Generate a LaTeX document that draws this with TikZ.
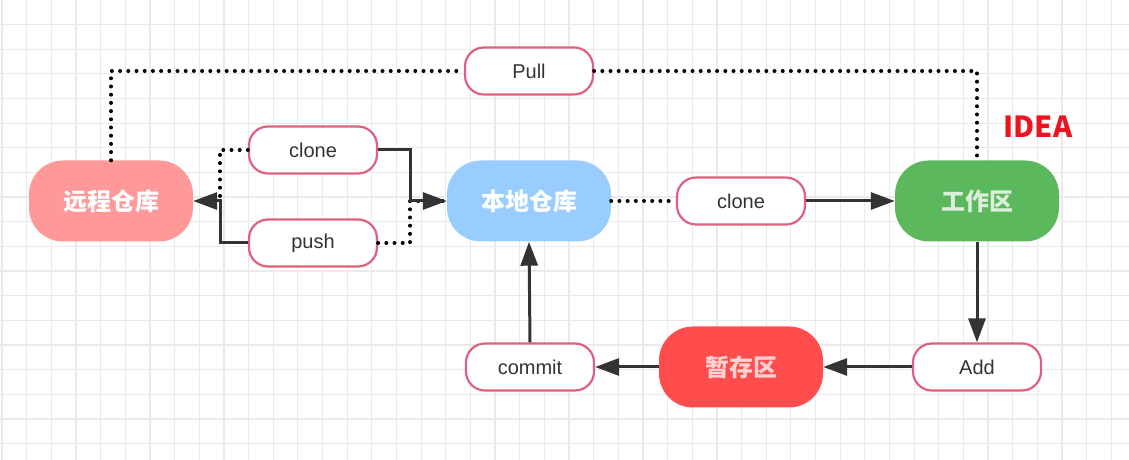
\documentclass[tikz,border=0pt]{standalone}
\usepackage{fontspec}
\setmainfont{Liberation Sans}
\newfontfamily\cjk{Noto Sans CJK SC}
\usetikzlibrary{arrows.meta}

\definecolor{remotecol}{RGB}{255,153,153}
\definecolor{localcol}{RGB}{153,204,255}
\definecolor{workcol}{RGB}{92,184,92}
\definecolor{stagecol}{RGB}{255,77,77}
\definecolor{opcol}{RGB}{222,98,128}
\definecolor{linecol}{RGB}{51,51,51}
\definecolor{gridcol}{RGB}{234,234,234}
\definecolor{ideacol}{RGB}{236,20,30}

\tikzset{
	area/.style={rounded corners=34pt, minimum width=164pt, minimum height=81pt, inner sep=0pt,
		text=white, font=\cjk\bfseries\fontsize{24}{28}\selectfont},
	opbox/.style={draw=opcol, line width=2.2pt, fill=white, rounded corners=19pt,
		minimum width=128pt, minimum height=47pt, inner sep=0pt,
		text=linecol, font=\fontsize{20}{24}\selectfont},
	dotline/.style={black, line width=4pt, line cap=round, dash pattern=on 0pt off 8.2pt},
	solidarrow/.style={linecol, line width=3pt, -{Triangle[length=24pt, width=17pt]}},
}

\begin{document}
\begin{tikzpicture}[x=1pt, y=1pt]

		\useasboundingbox (0,0) rectangle (1129,460);
		\fill[white] (0,0) rectangle (1129,460);
		% grid
		\foreach \gx in {0,...,45} {
			\draw[gridcol, line width=1.2pt] ({2.05+24.65*\gx},0) -- ({2.05+24.65*\gx},460);
		}
		\foreach \gy in {0,...,18} {
			\draw[gridcol, line width=1.2pt] (0,{460.1-24.65*\gy}) -- (1129,{460.1-24.65*\gy});
		}

		% areas
		\node[area, fill=remotecol] (remote) at (111,259) {远程仓库};
		\node[area, fill=localcol] (local) at (529,259) {本地仓库};
		\node[area, fill=workcol, text=white!78!workcol] (work) at (977,259) {工作区};
		\node[area, fill=stagecol, text=white!75!stagecol] (stage) at (741,93) {暂存区};

		% operations
		\node[opbox] (pull) at (529,389) {Pull};
		\node[opbox] (cloneR) at (313,310) {clone};
		\node[opbox] (pushR) at (313,217) {push};
		\node[opbox] (cloneW) at (741,259) {clone};
		\node[opbox] (add) at (977,93) {Add};
		\node[opbox] (commit) at (530,93) {commit};

		\node[text=ideacol, font=\cjk\bfseries\fontsize{29}{32}\selectfont] (idea) at (1038,333) {IDEA};

		\coordinate (leftJ) at (220,259);
		\coordinate (rightJ) at (410,259);

		% connectors
		\draw[dotline] (remote.north) |- (pull.west);
		\draw[dotline] (pull.east) -| (work.north);
		\draw[dotline] (cloneR.west) -| (leftJ);
		\draw[dotline] (pushR.east) -| (rightJ) -- (local.west);
		\draw[solidarrow] (cloneR.east) -| (rightJ) -- (local.west);
		\draw[solidarrow] (pushR.west) -| (leftJ) -- (remote.east);
		\draw[dotline] (local.east) -- (cloneW.west);
		\draw[solidarrow] (cloneW.east) -- (work.west);
		\draw[solidarrow] (work.south) -- (add.north);
		\draw[solidarrow] (add.west) -- (stage.east);
		\draw[solidarrow] (stage.west) -- (commit.east);
		\draw[solidarrow] (commit.north) -- (local.south);

	\end{tikzpicture}
\end{document}
